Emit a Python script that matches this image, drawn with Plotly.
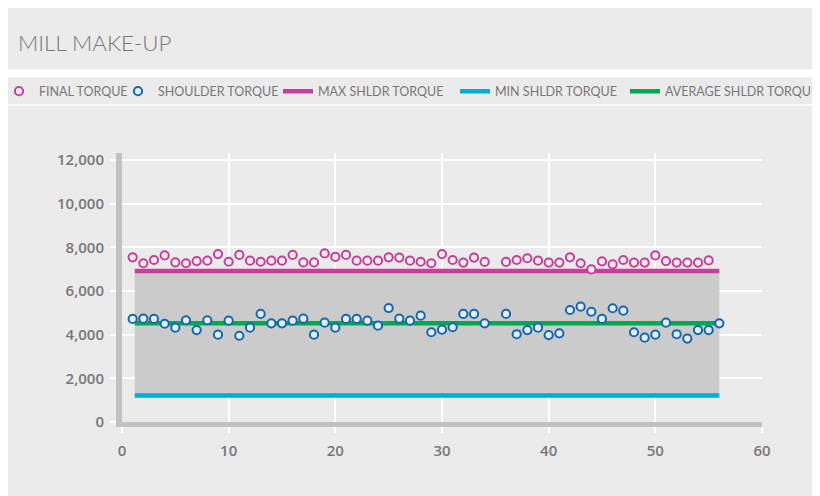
import plotly.graph_objects as go

# ---- data ----
sample_no = list(range(1, 57))
final_torque = [7540, 7270, 7420, 7630, 7310, 7270, 7370, 7390, 7690, 7340,
                7650, 7390, 7340, 7390, 7390, 7650, 7310, 7310, 7720, 7560,
                7650, 7390, 7390, 7390, 7540, 7530, 7390, 7340, 7270, 7690,
                7420, 7300, 7530, 7330, None, 7330, 7420, 7500, 7390, 7300,
                7300, 7540, 7270, 6990, 7360, 7220, 7420, 7300, 7300, 7630,
                7370, 7300, 7300, 7300, 7400, None]
shoulder_torque = [4720, 4730, 4720, 4500, 4320, 4660, 4210, 4660, 4000, 4640,
                   3950, 4320, 4950, 4520, 4520, 4640, 4730, 4000, 4550, 4320,
                   4720, 4720, 4640, 4410, 5220, 4730, 4640, 4870, 4110, 4230,
                   4340, 4950, 4950, 4520, None, 4950, 4020, 4210, 4320, 3980,
                   4060, 5130, 5280, 5050, 4720, 5210, 5100, 4110, 3860, 4000,
                   4550, 4020, 3820, 4210, 4210, 4520]
limit_x = [1.2, 56]
max_shldr = [6920, 6920]
min_shldr = [1210, 1210]
avg_shldr = [4520, 4520]

x_ticks = [0, 10, 20, 30, 40, 50, 60]
y_ticks = [0, 2000, 4000, 6000, 8000, 10000, 12000]

MAGENTA = "#c6409a"
BLUE = "#0e68b8"
CYAN = "#05aad6"
GREEN = "#03a651"
BAND = "#cbcbcb"
PANEL = "#ebebeb"
TXT = "#777777"

W, H = 820, 496
L, R, T, B = 114, 66, 145, 82
PW, PH = W - L - R, H - T - B

fig = go.Figure()

# band between min and max
fig.add_trace(go.Scatter(x=limit_x, y=min_shldr, mode="lines", line=dict(width=0),
                         showlegend=False, hoverinfo="skip"))
fig.add_trace(go.Scatter(x=limit_x, y=max_shldr, mode="lines", line=dict(width=0),
                         fill="tonexty", fillcolor=BAND, showlegend=False, hoverinfo="skip"))

fig.add_trace(go.Scatter(x=limit_x, y=max_shldr, mode="lines", name="MAX SHLDR TORQUE",
                         line=dict(color=MAGENTA, width=4.5), legend="legend3"))
fig.add_trace(go.Scatter(x=limit_x, y=min_shldr, mode="lines", name="MIN SHLDR TORQUE",
                         line=dict(color=CYAN, width=4.5), legend="legend4"))
fig.add_trace(go.Scatter(x=limit_x, y=avg_shldr, mode="lines", name="AVERAGE SHLDR TORQUE",
                         line=dict(color=GREEN, width=4.5), legend="legend5"))

fig.add_trace(go.Scatter(x=sample_no, y=shoulder_torque, mode="markers", name="SHOULDER TORQUE",
                         marker=dict(symbol="circle", size=8.2, color="#ebebeb",
                                     line=dict(color=BLUE, width=2)), legend="legend2"))
fig.add_trace(go.Scatter(x=sample_no, y=final_torque, mode="markers", name="FINAL TORQUE",
                         marker=dict(symbol="circle", size=8.2, color="#ebebeb",
                                     line=dict(color=MAGENTA, width=2)), legend="legend"))


def px_x(p):
    return (p - L) / PW


def px_y(p):
    return (H - B - p) / PH


# white gaps between the grey panels
shapes = [
    dict(type="rect", xref="paper", yref="paper", x0=px_x(-5), x1=px_x(W + 5),
         y0=px_y(69.3), y1=px_y(61.3), fillcolor="white", line=dict(width=0), layer="below"),
    dict(type="rect", xref="paper", yref="paper", x0=px_x(-5), x1=px_x(W + 5),
         y0=px_y(97.8), y1=px_y(96.3), fillcolor="white", line=dict(width=0), layer="below"),
]

legend_font = dict(family="Lato", size=12.5, color=TXT)
leg_y = 1 - 83.5 / H


def leg(xpix):
    return dict(orientation="h", xref="paper", x=px_x(xpix), xanchor="left",
                yref="container", y=leg_y, yanchor="middle", font=legend_font,
                bgcolor="rgba(0,0,0,0)", itemwidth=30)


fig.update_layout(
    width=W, height=H,
    margin=dict(l=L, r=R, t=T, b=B, autoexpand=False),
    paper_bgcolor=PANEL,
    plot_bgcolor=PANEL,
    shapes=shapes,
    title=dict(text="MILL MAKE-UP", x=10 / W, xref="container", xanchor="left",
               y=1 - 35 / H, yref="container", yanchor="middle",
               font=dict(family="Lato", size=22.3, color=TXT, weight=300)),
    legend=leg(-9),
    legend2=leg(110),
    legend3=leg(270),
    legend4=leg(447),
    legend5=leg(617),
    showlegend=True,
    xaxis=dict(range=[0, 60], tickvals=x_ticks, showgrid=True, gridcolor="white", gridwidth=2,
               zeroline=False, showline=True, linecolor="#c2c2c2", linewidth=5,
               ticks="outside", ticklen=6, tickwidth=2, tickcolor="white",
               ticklabelstandoff=5,
               tickfont=dict(family="Open Sans", size=15, color=TXT, weight=600)),
    yaxis=dict(range=[0, 12320], tickvals=y_ticks, tickformat=",d", showgrid=True,
               gridcolor="white", gridwidth=2, zeroline=False, showline=True,
               linecolor="#c2c2c2", linewidth=6, ticks="outside", ticklen=6, tickwidth=2,
               tickcolor="white", ticklabelstandoff=3,
               tickfont=dict(family="Open Sans", size=15, color=TXT, weight=600)),
)

fig.write_html("out.html")
